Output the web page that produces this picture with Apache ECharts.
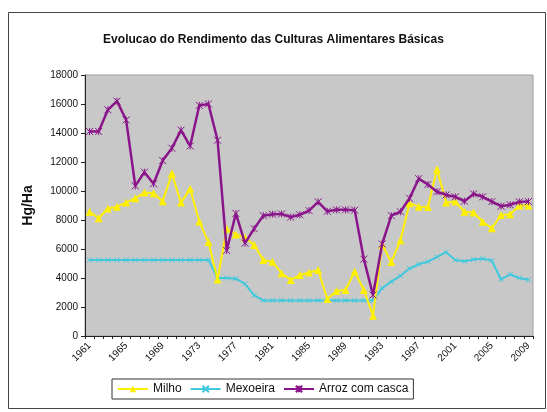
<!DOCTYPE html>
<html>
<head>
<meta charset="utf-8">
<script src="https://cdn.jsdelivr.net/npm/echarts/dist/echarts.min.js"></script>
<style>
html,body{margin:0;padding:0;background:#fff;}
#c{width:547px;height:412px;}
</style>
</head>
<body>
<div id="c"></div>
<script>
const years = [];
for (let y = 1961; y <= 2009; y++) years.push(String(y));

const milho = [8570, 8120, 8800, 8920, 9200, 9500, 9890, 9840, 9300, 11200,
  9200, 10150, 7890, 6480, 3900, 7400, 7000, 6800, 6280, 5240,
  5120, 4330, 3860, 4210, 4380, 4550, 2550, 3100, 3170, 4450,
  3170, 1400, 6300, 5100, 6600, 9150, 8920, 8900, 11500, 9200,
  9270, 8570, 8520, 7880, 7430, 8340, 8400, 9000, 9000];

const mexoeira = [5250, 5250, 5250, 5250, 5250, 5250, 5250, 5250, 5250, 5250,
  5250, 5250, 5250, 5250, 4000, 4000, 3950, 3600, 2800, 2450,
  2450, 2450, 2450, 2450, 2450, 2450, 2450, 2450, 2450, 2450,
  2450, 2450, 3300, 3750, 4150, 4650, 4950, 5130, 5450, 5780,
  5240, 5150, 5280, 5330, 5200, 3900, 4250, 4000, 3880];

const arroz = [14100, 14100, 15600, 16200, 14900, 10350, 11300, 10500, 12100, 12950,
  14200, 13100, 15900, 16000, 13500, 5900, 8450, 6400, 7400, 8300,
  8400, 8420, 8200, 8360, 8650, 9250, 8600, 8700, 8700, 8680,
  5300, 2830, 6350, 8300, 8570, 9500, 10850, 10450, 9950, 9730,
  9600, 9300, 9800, 9600, 9270, 8950, 9050, 9250, 9270];

const titleText = 'Evolucao do Rendimento das Culturas Alimentares Básicas';
const yName = 'Hg/Ha';

const FONT = '"Liberation Sans", Arial, sans-serif';
const star = 'path://M0,0L10,10M10,0L0,10M5,0L5,10';
const cross = 'path://M0,0L10,10M10,0L0,10';

const chart = echarts.init(document.getElementById('c'), null, {renderer: 'canvas'});
chart.setOption({
  animation: false,
  backgroundColor: '#fff',
  textStyle: {fontFamily: FONT},
  graphic: [
    {type: 'rect', shape: {x: 8.5, y: 12.5, width: 537, height: 396}, style: {fill: 'none', stroke: '#444', lineWidth: 1}, silent: true, z: -10}
  ],
  title: {
    text: titleText, left: 'center', top: 29,
    textStyle: {fontSize: 12, fontWeight: 'bold', color: '#111', fontFamily: FONT}
  },
  grid: {left: 85, right: 14, top: 75, bottom: 76, show: true, backgroundColor: '#C8C8C8', borderColor: '#a0a0a0', borderWidth: 1},
  legend: {
    left: 112, top: 379,
    itemGap: 8, itemWidth: 30, itemHeight: 8,
    borderColor: '#333', borderWidth: 1, padding: [4, 5],
    textStyle: {fontSize: 12, color: '#111', fontFamily: FONT},
    data: ['Milho', 'Mexoeira', 'Arroz com casca']
  },
  xAxis: {
    type: 'category', data: years, boundaryGap: true,
    axisLine: {lineStyle: {color: '#222', width: 1}},
    axisTick: {show: true, interval: 0, length: 3, lineStyle: {color: '#222'}},
    axisLabel: {interval: 3, rotate: 45, fontSize: 10, color: '#111', margin: 8, fontFamily: FONT},
    splitLine: {show: false}
  },
  yAxis: {
    type: 'value', min: 0, max: 18000, interval: 2000,
    name: yName, nameLocation: 'middle', nameGap: 50, nameRotate: 90,
    nameTextStyle: {fontSize: 14, fontWeight: 'bold', color: '#111', fontFamily: FONT},
    axisLine: {show: true, lineStyle: {color: '#222', width: 1}},
    axisTick: {show: true, length: 4, lineStyle: {color: '#222'}},
    axisLabel: {fontSize: 10, color: '#111', margin: 7, fontFamily: FONT, formatter: v => String(v)},
    splitLine: {show: false}
  },
  series: [
    {
      name: 'Milho', type: 'line', data: milho,
      symbol: 'triangle', symbolSize: 8, showAllSymbol: true,
      lineStyle: {color: '#FFF000', width: 2},
      itemStyle: {color: '#FFF000'}, z: 3
    },
    {
      name: 'Mexoeira', type: 'line', data: mexoeira,
      symbol: cross, symbolSize: 5, showAllSymbol: true,
      lineStyle: {color: '#40C8DC', width: 2},
      itemStyle: {color: '#40C8DC', borderColor: '#40C8DC', borderWidth: 1}, z: 2
    },
    {
      name: 'Arroz com casca', type: 'line', data: arroz,
      symbol: star, symbolSize: 7, showAllSymbol: true,
      lineStyle: {color: '#8A148A', width: 2.5},
      itemStyle: {color: '#8A148A', borderColor: '#8A148A', borderWidth: 1}, z: 4
    }
  ]
});
</script>
</body>
</html>
